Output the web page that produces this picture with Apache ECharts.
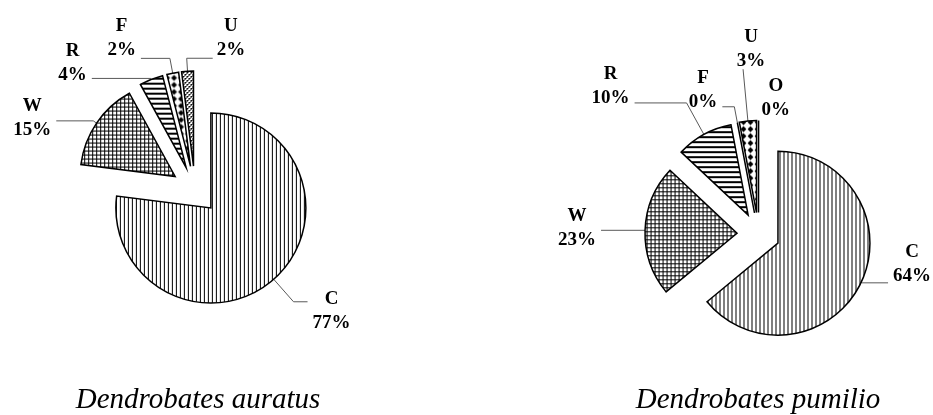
<!DOCTYPE html>
<html><head><meta charset="utf-8">
<script src="https://cdn.jsdelivr.net/npm/echarts@6/dist/echarts.min.js"></script>
<style>html,body{margin:0;padding:0;background:#fff}#c{width:933px;height:415px}</style>
</head><body><div id="c"></div>
<script>
// ---- data ----
const categoriesAuratus = ['C', 'W', 'R', 'F', 'U'];
const valuesAuratus = [77, 15, 4, 2, 2];
const categoriesPumilio = ['C', 'W', 'R', 'F', 'U', 'O'];
const valuesPumilio = [64, 23, 10, 0, 3, 0];
const speciesTitles = ['Dendrobates auratus', 'Dendrobates pumilio'];

// ---- hatch patterns ----
function makePattern(size, draw) {
  const c = document.createElement('canvas');
  c.width = size; c.height = size;
  const g = c.getContext('2d');
  g.fillStyle = '#fff'; g.fillRect(0, 0, size, size);
  g.fillStyle = '#000';
  draw(g, size);
  return { image: c, repeat: 'repeat' };
}
const pat = {
  vlines: makePattern(4, g => { g.fillRect(0, 0, 1, 4); }),
  grid: makePattern(4, g => { g.fillRect(0, 0, 1, 4); g.fillRect(0, 0, 4, 1); }),
  hlines: makePattern(5, g => { g.fillRect(0, 0, 5, 2); }),
  diamonds: makePattern(7, g => {
    g.beginPath(); g.moveTo(3.5, 0.6); g.lineTo(6.4, 3.5); g.lineTo(3.5, 6.4); g.lineTo(0.6, 3.5); g.closePath(); g.fill();
  }),
  dots: makePattern(4, g => {
    g.fillRect(0, 0, 2, 1); g.fillRect(0, 1, 1, 1); g.fillRect(2, 2, 2, 1); g.fillRect(2, 3, 1, 1);
  })
};

const FONT = "'Liberation Serif','Times New Roman',serif";
const richText = {
  n: { align: 'center', fontFamily: FONT, fontWeight: 'bold', fontSize: 19, lineHeight: 24, color: '#000' },
  v: { align: 'center', fontFamily: FONT, fontWeight: 'bold', fontSize: 19, lineHeight: 24, color: '#000' }
};

function buildPie(names, values, opts) {
  return {
    type: 'pie',
    center: opts.center,
    radius: opts.radius,
    startAngle: opts.startAngle,
    clockwise: true,
    selectedMode: 'multiple',
    selectedOffset: opts.offset,
    avoidLabelOverlap: false,
    animation: false,
    emphasis: { disabled: true },
    itemStyle: { borderColor: '#000', borderWidth: 1.5, borderJoin: 'miter' },
    label: { show: true, position: 'outside', formatter: '{n|{b}}\n{v|{c}%}', rich: richText },
    labelLine: { show: true, minTurnAngle: 0, maxSurfaceAngle: 0, lineStyle: { color: '#595959', width: 1 } },
    labelLayout: function (p) {
      const a = opts.aligns[p.dataIndex];
      return a ? { align: a } : {};
    },
    data: names.map((n, i) => ({
      name: n,
      value: values[i],
      selected: true,
      itemStyle: { color: opts.fills[i] },
      label: { padding: opts.pads[i] },
      labelLine: { length: opts.lens[i][0], length2: opts.lens[i][1], show: opts.lineShow[i] }
    }))
  };
}

const chart = echarts.init(document.getElementById('c'), null, { renderer: 'canvas' });
chart.setOption({
  backgroundColor: '#fff',
  animation: false,
  series: [
    buildPie(categoriesAuratus, valuesAuratus, {
      center: [195, 190], radius: 95, offset: 24, startAngle: 90,
      fills: [pat.vlines, pat.grid, pat.hlines, pat.diamonds, pat.dots],
      pads: [[18, 0, 0, 0], [0, 0, 6, 0], [0, 0, 31, 0], [0, 0, 41, 0], [0, 0, 41, 9]],
      lens: [[30, 14], [4, 37], [1, 59], [15, 29], [13, -26]],
      lineShow: [true, true, true, true, true],
      aligns: [null, null, null, null, 'left']
    }),
    buildPie(categoriesPumilio, valuesPumilio, {
      center: [758.5, 234], radius: 92, offset: 21.5, startAngle: 89.95,
      fills: [pat.vlines, pat.grid, pat.hlines, pat.diamonds, pat.diamonds, pat.diamonds],
      pads: [[0, 0, 38, 0], [0, 0, 5, 0], [0, 0, 34, 0], [0, 0, 33, 0], [0, 0, 40, 26], [0, 0, 0, 0]],
      lens: [[1, 26], [1, 43], [36, 52], [16, 12], [52, 0], [22.5, -2]],
      lineShow: [true, true, true, true, true, false],
      aligns: [null, null, null, null, 'center', null]
    })
  ],
  graphic: speciesTitles.map((t, i) => ({
    type: 'text',
    x: i === 0 ? 198 : 758,
    y: 400,
    style: { text: t, fontFamily: FONT, fontStyle: 'italic', fontSize: 29, fill: '#000', textAlign: 'center', textVerticalAlign: 'middle' }
  }))
});
</script>
</body></html>
